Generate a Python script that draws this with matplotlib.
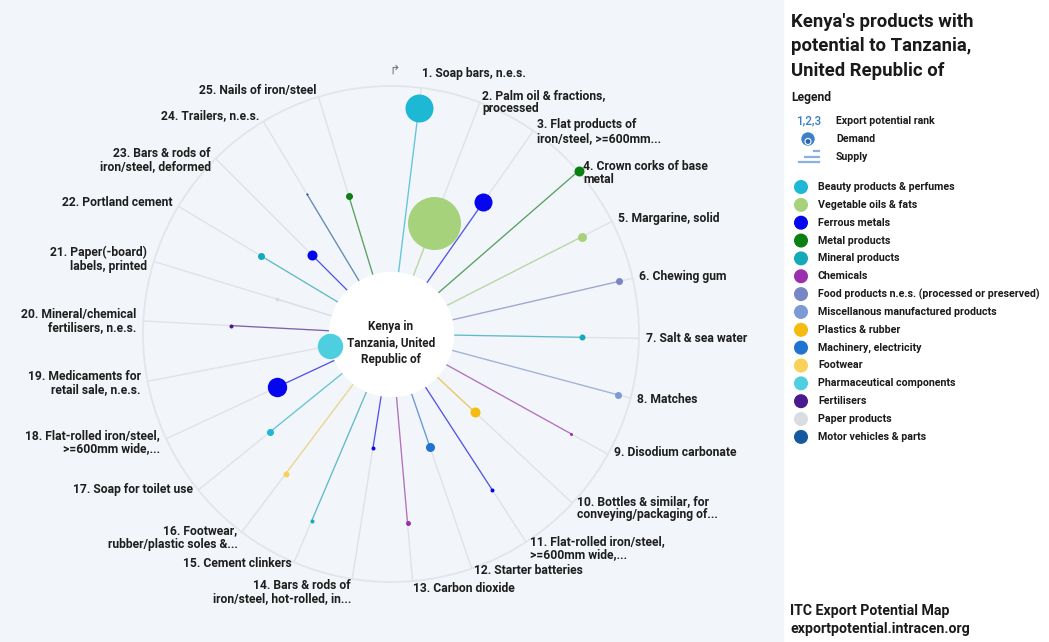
import numpy as np
import matplotlib.pyplot as plt
from matplotlib.patches import Rectangle, Ellipse

plt.rcParams['font.family'] = ['Roboto', 'DejaVu Sans']

# produtos (ordem = rank de potencial de exportacao)
produtos = [
    "1. Soap bars, n.e.s.",
    "2. Palm oil & fractions,\nprocessed",
    "3. Flat products of\niron/steel, >=600mm...",
    "4. Crown corks of base\nmetal",
    "5. Margarine, solid",
    "6. Chewing gum",
    "7. Salt & sea water",
    "8. Matches",
    "9. Disodium carbonate",
    "10. Bottles & similar, for\nconveying/packaging of...",
    "11. Flat-rolled iron/steel,\n>=600mm wide,...",
    "12. Starter batteries",
    "13. Carbon dioxide",
    "14. Bars & rods of\niron/steel, hot-rolled, in...",
    "15. Cement clinkers",
    "16. Footwear,\nrubber/plastic soles &...",
    "17. Soap for toilet use",
    "18. Flat-rolled iron/steel,\n>=600mm wide,...",
    "19. Medicaments for\nretail sale, n.e.s.",
    "20. Mineral/chemical\nfertilisers, n.e.s.",
    "21. Paper(-board)\nlabels, printed",
    "22. Portland cement",
    "23. Bars & rods of\niron/steel, deformed",
    "24. Trailers, n.e.s.",
    "25. Nails of iron/steel",
]
setor = [
    "Beauty products & perfumes", "Vegetable oils & fats", "Ferrous metals", "Metal products",
    "Vegetable oils & fats", "Food products n.e.s. (processed or preserved)", "Mineral products",
    "Miscellanous manufactured products", "Chemicals", "Plastics & rubber", "Ferrous metals",
    "Machinery, electricity", "Chemicals", "Ferrous metals", "Mineral products", "Footwear",
    "Beauty products & perfumes", "Ferrous metals", "Pharmaceutical components", "Fertilisers",
    "Paper products", "Mineral products", "Ferrous metals", "Motor vehicles & parts", "Metal products",
]
# oferta -> distancia radial (0 = centro, 248 = circulo externo)
oferta = [228, 119, 161, 249, 214, 234, 191, 235, 206, 115, 186, 120, 190,
          115, 203, 175, 156, 126, 62, 160, 119, 152, 112, 163, 144]
# demanda -> raio da bolha (px)
demanda = [14, 26.5, 9, 5, 4.5, 3.5, 3, 3.5, 1.5, 5, 2, 4.5, 2.5,
           2, 2, 3, 3.5, 9.7, 12.7, 2, 2, 3.5, 5, 1, 3.5]

setores = [
    "Beauty products & perfumes", "Vegetable oils & fats", "Ferrous metals", "Metal products",
    "Mineral products", "Chemicals", "Food products n.e.s. (processed or preserved)",
    "Miscellanous manufactured products", "Plastics & rubber", "Machinery, electricity",
    "Footwear", "Pharmaceutical components", "Fertilisers", "Paper products", "Motor vehicles & parts",
]
cores = [
    "#1cb8d4", "#a6d27c", "#0505ee", "#0b7f14", "#16a9ba", "#9b30ae", "#7986c6",
    "#7b9ad6", "#f6bb10", "#1f73d1", "#fad158", "#4ecfe0", "#4b1a8e", "#d9dde2", "#16599e",
]
cor_setor = dict(zip(setores, cores))

W, H = 1049, 642
fig = plt.figure(figsize=(W / 100, H / 100), dpi=100)
fig.patches.append(Rectangle((0, 0), 783 / W, 1, transform=fig.transFigure,
                             color="#f2f5f9", zorder=-5))

cx, cy, R = 391, 334, 248
R_in = 62
ax = fig.add_axes([(cx - R) / W, (H - cy - R) / H, 2 * R / W, 2 * R / H], projection="polar")
ax.set_zorder(2)
ax.set_theta_zero_location("N")
ax.set_theta_direction(-1)
ax.set_rlim(0, R)
ax.grid(False)
ax.set_xticks([])
ax.set_yticks([])
ax.patch.set_alpha(0)
ax.spines["polar"].set_color("#e2e5e9")
ax.spines["polar"].set_linewidth(1.3)

n = len(produtos)
theta = np.radians(7 + 14 * np.arange(n))
fs_lab = 8.7
lh = 12.8  # altura da linha dos rotulos em px

for i in range(n):
    c = cor_setor[setor[i]]
    ax.plot([theta[i], theta[i]], [R_in, R], color="#dfe2e6", lw=1, zorder=1, clip_on=False)
    ax.plot([theta[i], theta[i]], [R_in, oferta[i]], color=c, lw=0.9, alpha=0.65, zorder=2)
    ax.scatter(theta[i], oferta[i], s=(2 * demanda[i] * 0.72) ** 2, color=c,
               zorder=4, linewidths=0, clip_on=False)
    ha = "left" if np.degrees(theta[i]) < 180 else "right"
    # ajuste vertical dos rotulos conforme a posicao no circulo
    nl = produtos[i].count("\n") + 1
    cosv = np.cos(theta[i])
    dy = 0
    if nl > 1 and (cosv > 0.6 or cosv < -0.9):
        dy = -(nl - 1) / 2 * lh * 0.72
    elif nl == 1 and -0.98 < cosv < -0.3:
        dy = 5 * 0.72
    elif nl == 1 and cosv > 0.98:
        dy = 7 * 0.72
    ax.annotate(produtos[i], (theta[i], 255), xytext=(0, dy), textcoords="offset points",
                ha=ha, va="center", fontsize=fs_lab, fontweight="bold",
                color="#1e1e1e", linespacing=1.02, annotation_clip=False)

# circulo central
tt = np.linspace(0, 2 * np.pi, 200)
ax.fill_between(tt, 0, R_in, color="white", zorder=3)
ax.text(np.pi, 9, "Kenya in\nTanzania, United\nRepublic of", ha="center", va="center",
        fontsize=8.5, fontweight="bold", color="#1e1e1e", linespacing=1.38, zorder=5)
fig.text(395 / W, 1 - 70 / H, "\u21b1", ha="center", va="center", fontsize=9,
         color="#777777", family=["DejaVu Sans"])

# painel da legenda
def fx(x):
    return x / W

def fy(y):
    return 1 - y / H

def bolinha(x, y, r, **kw):
    fig.patches.append(Ellipse((fx(x), fy(y)), 2 * r / W, 2 * r / H,
                               transform=fig.transFigure, **kw))

fig.text(fx(791), fy(13), "Kenya's products with\npotential to Tanzania,\nUnited Republic of",
         ha="left", va="top", fontsize=13.3, fontweight="bold", color="#1a1a1a", linespacing=1.45)
fig.text(fx(791), fy(97), "Legend", ha="left", va="center", fontsize=8.7,
         fontweight="bold", color="#1a1a1a")
fig.text(fx(796), fy(121), "1,2,3", ha="left", va="center", fontsize=8.5,
         color="#3a7fc6", fontweight="medium")
fig.text(fx(836), fy(121), "Export potential rank", ha="left", va="center", fontsize=7.6,
         fontweight="bold", color="#1a1a1a")
bolinha(808, 139, 6, color="#3d7fc8")
bolinha(808, 141.5, 3, facecolor="#2a66b0", edgecolor="white", lw=0.8)
fig.text(fx(836), fy(139), "Demand", ha="left", va="center", fontsize=7.6,
         fontweight="bold", color="#1a1a1a")
for x0, x1, y in [(814, 819, 151), (805, 819, 157), (799, 819, 162)]:
    fig.lines.append(plt.Line2D([fx(x0), fx(x1)], [fy(y), fy(y)], transform=fig.transFigure,
                                color="#8ab0de", lw=1.6))
fig.text(fx(836), fy(157), "Supply", ha="left", va="center", fontsize=7.6,
         fontweight="bold", color="#1a1a1a")

for k, (nome, c) in enumerate(zip(setores, cores)):
    y = 187 + 17.85 * k
    bolinha(801, y, 6.3, color=c)
    fig.text(fx(818), fy(y), nome, ha="left", va="center", fontsize=7.65,
             fontweight="bold", color="#1a1a1a")

fig.text(fx(790), fy(620), "ITC Export Potential Map\nexportpotential.intracen.org",
         ha="left", va="center", fontsize=10.2, fontweight="bold", color="#1a1a1a",
         linespacing=1.3)

plt.savefig("out.png", dpi=100)
